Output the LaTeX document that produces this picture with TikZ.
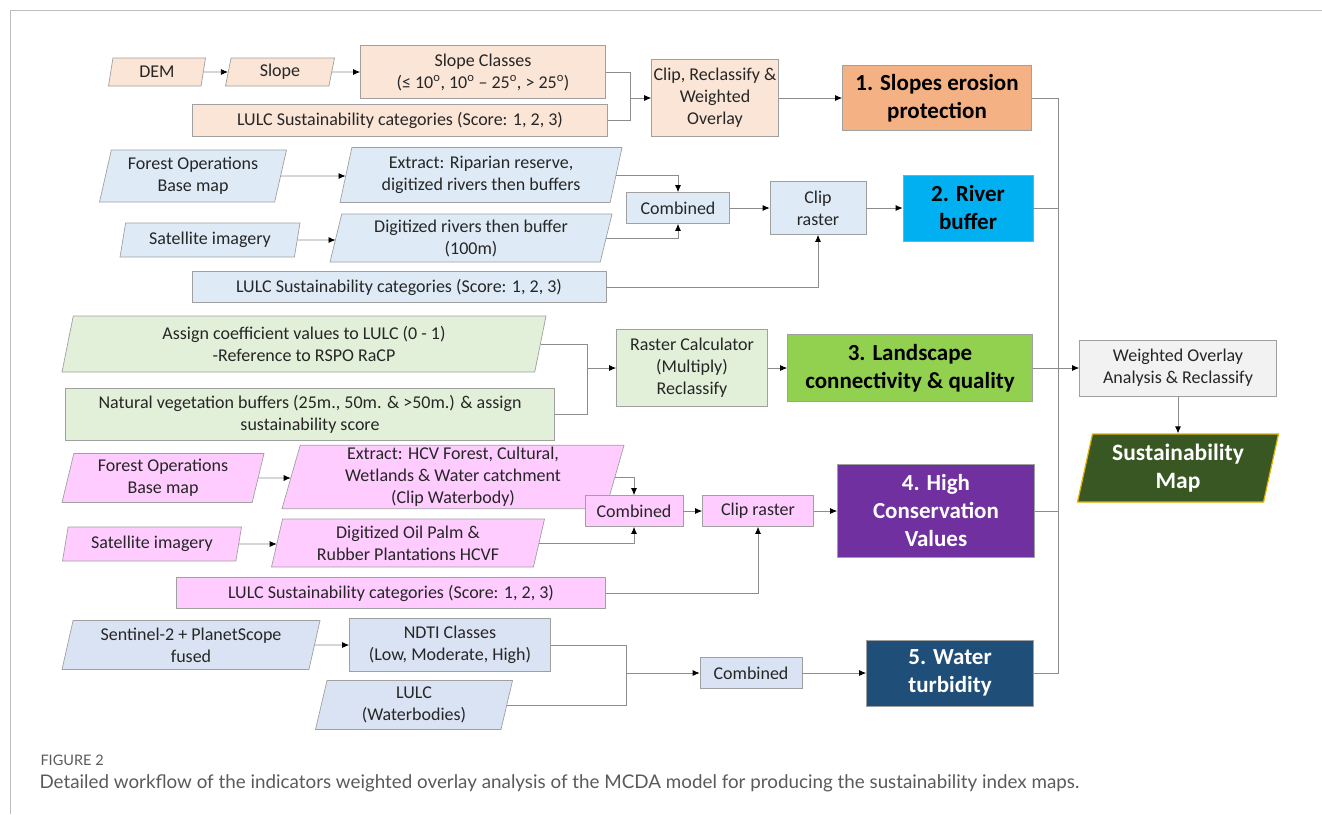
\documentclass[tikz,border=0pt]{standalone}
\usepackage{fontspec}
\setmainfont{Carlito}
\newfontfamily\capfont{Lato}
\usepackage{tikz}
\usetikzlibrary{positioning,
                shapes.geometric,
                arrows.meta}
\definecolor{slopefill}{HTML}{FBE5D6}
\definecolor{slopeout}{HTML}{F4B183}
\definecolor{riverfill}{HTML}{DEEBF7}
\definecolor{riverout}{HTML}{00B0F0}
\definecolor{landfill}{HTML}{E2F0D9}
\definecolor{landout}{HTML}{92D050}
\definecolor{hcvfill}{HTML}{FFCCFF}
\definecolor{hcvout}{HTML}{7030A0}
\definecolor{turbfill}{HTML}{DAE3F3}
\definecolor{turbout}{HTML}{1F4E79}
\definecolor{wofill}{HTML}{F2F2F2}
\definecolor{mapgreen}{HTML}{385723}
\definecolor{mapgold}{HTML}{E2B200}
\definecolor{boxgray}{HTML}{A0A0A0}
\definecolor{linegray}{HTML}{8C8C8C}
\definecolor{textdark}{HTML}{262626}
\definecolor{capgray}{HTML}{5A5A5A}
\definecolor{framegray}{HTML}{BDBDBD}

\begin{document}
\begin{tikzpicture}[x=1pt,y=-1pt]

\tikzset{
procbox/.style={
draw=boxgray,
line width=0.7pt,
rectangle,
align=center,
inner sep=2pt,
text=textdark,
font=\fontsize{18}{22}\selectfont
},
databox/.style={
procbox,
trapezium,
trapezium left angle=74,
trapezium right angle=106,
trapezium stretches body=true
},
indbox/.style={
draw=boxgray,
line width=0.7pt,
align=center,
inner sep=2pt,
font=\fontsize{23}{28}\selectfont\bfseries
},
link/.style={
draw=linegray,
line width=0.8pt
},
flow/.style={
link,
-{Latex[length=7pt,width=6pt,black]}
}
}

\useasboundingbox (0,0) rectangle (1322,814);

%--------------------------------------------------
% FRAME AND CAPTION
%--------------------------------------------------

\draw[framegray, line width=0.8pt] (10,814) -- (10,10) -- (1322,10);

\node[anchor=west, text=capgray, font=\capfont\fontsize{14.5}{17}\selectfont]
(figlab) at (37,760) {FIGURE 2};
\node[anchor=west, text=capgray, font=\capfont\fontsize{18.8}{22}\selectfont]
(figcap) at (36,783)
{Detailed workflow of the indicators weighted overlay analysis of the MCDA model for producing the sustainability index maps.};

%--------------------------------------------------
% 1. SLOPES EROSION PROTECTION
%--------------------------------------------------

\node[databox, fill=slopefill, minimum width=97pt, minimum height=28pt]
(dem) at (157,72) {DEM};
\node[databox, fill=slopefill, minimum width=109pt, minimum height=28pt]
(slope) at (280,72) {Slope};
\node[procbox, fill=slopefill, minimum width=245pt, minimum height=53pt]
(slpcls) at (483,72)
{Slope Classes\\(≤ 10\textsuperscript{o}, 10\textsuperscript{o} – 25\textsuperscript{o}, > 25\textsuperscript{o})};
\node[procbox, fill=slopefill, minimum width=415pt, minimum height=32pt]
(lulc1) at (400,120) {LULC Sustainability categories (Score: 1, 2, 3)};
\node[procbox, fill=slopefill, minimum width=120pt, minimum height=77pt]
(clip1) at (715,98) {Clip, Reclassify \&\\Weighted\\Overlay};
\node[indbox, fill=slopeout, text=black, minimum width=189pt, minimum height=65pt]
(out1) at (937,98) {1. Slopes erosion\\protection};

\coordinate (slpjoin) at (630,98);

\draw[flow] (dem) -- (slope);
\draw[flow] (slope) -- (slpcls);
\draw[link] (slpcls.east) -| (slpjoin);
\draw[link] (lulc1.east) -| (slpjoin);
\draw[flow] (slpjoin) -- (clip1.west);
\draw[flow] (clip1) -- (out1);

%--------------------------------------------------
% 2. RIVER BUFFER
%--------------------------------------------------

\node[databox, fill=riverfill, minimum width=187pt, minimum height=52pt]
(forest2) at (193,176) {Forest Operations\\Base map};
\node[databox, fill=riverfill, minimum width=282pt, minimum height=55pt]
(extr2) at (481,175) {Extract: Riparian reserve,\\digitized rivers then buffers};
\node[databox, fill=riverfill, minimum width=180pt, minimum height=34pt]
(sat2) at (210,240) {Satellite imagery};
\node[databox, fill=riverfill, minimum width=282pt, minimum height=48pt]
(digi2) at (471,238) {Digitized rivers then buffer\\(100m)};
\node[procbox, fill=riverfill, minimum width=103pt, minimum height=31pt]
(comb2) at (678,208) {Combined};
\node[procbox, fill=riverfill, minimum width=96pt, minimum height=53pt]
(clip2) at (818,208) {Clip\\raster};
\node[procbox, fill=riverfill, minimum width=414pt, minimum height=31pt]
(lulc2) at (399,287) {LULC Sustainability categories (Score: 1, 2, 3)};
\node[indbox, fill=riverout, text=black, minimum width=130pt, minimum height=66pt]
(out2) at (968,208) {2. River\\buffer};

\draw[flow] (forest2) -- (forest2 -| extr2.west);
\draw[flow] (sat2) -- (sat2 -| digi2.west);
\draw[flow] (extr2.east) -| (comb2.north);
\draw[flow] (digi2.east) -| (comb2.south);
\draw[flow] (comb2) -- (clip2);
\draw[flow] (lulc2.east) -| (clip2.south);
\draw[flow] (clip2) -- (out2);

%--------------------------------------------------
% 3. LANDSCAPE CONNECTIVITY
%--------------------------------------------------

\node[databox, fill=landfill, minimum width=484pt, minimum height=56pt]
(coef3) at (304,344) {Assign coefficient values to LULC (0 - 1)\\-Reference to RSPO RaCP};
\node[procbox, fill=landfill, minimum width=489pt, minimum height=52pt]
(veg3) at (310,414) {Natural vegetation buffers (25m., 50m. \& >50m.) \& assign\\sustainability score};
\node[procbox, fill=landfill, minimum width=151pt, minimum height=77pt]
(rcalc3) at (692,368) {Raster Calculator\\(Multiply)\\Reclassify};
\node[indbox, fill=landout, text=black, minimum width=245pt, minimum height=67pt]
(out3) at (910,368) {3. Landscape\\connectivity \& quality};

\coordinate (landjoin) at (587,368);

\draw[link] (coef3.east) -| (landjoin);
\draw[link] (veg3.east) -| (landjoin);
\draw[flow] (landjoin) -- (rcalc3.west);
\draw[flow] (rcalc3) -- (out3);

%--------------------------------------------------
% 4. HIGH CONSERVATION VALUES
%--------------------------------------------------

\node[databox, fill=hcvfill, minimum width=202pt, minimum height=49pt]
(forest4) at (163,478) {Forest Operations\\Base map};
\node[databox, fill=hcvfill, minimum width=342pt, minimum height=60pt]
(extr4) at (453,477) {Extract: HCV Forest, Cultural,\\Wetlands \& Water catchment\\(Clip Waterbody)};
\node[databox, fill=hcvfill, minimum width=179pt, minimum height=34pt]
(sat4) at (152,544) {Satellite imagery};
\node[databox, fill=hcvfill, minimum width=273pt, minimum height=48pt]
(digi4) at (408,543) {Digitized Oil Palm \&\\Rubber Plantations HCVF};
\node[procbox, fill=hcvfill, minimum width=98pt, minimum height=31pt]
(comb4) at (634,511) {Combined};
\node[procbox, fill=hcvfill, minimum width=111pt, minimum height=31pt]
(clip4) at (758,511) {Clip raster};
\node[procbox, fill=hcvfill, minimum width=429pt, minimum height=31pt]
(lulc4) at (391,593) {LULC Sustainability categories (Score: 1, 2, 3)};
\node[indbox, fill=hcvout, text=white, minimum width=197pt, minimum height=93pt]
(out4) at (936,511) {4. High\\Conservation\\Values};

\draw[flow] (forest4) -- (forest4 -| extr4.west);
\draw[flow] (sat4) -- (sat4 -| digi4.west);
\draw[flow] (extr4.east) -| (comb4.north);
\draw[flow] (digi4.east) -| (comb4.south);
\draw[flow] (comb4) -- (clip4);
\draw[flow] (lulc4.east) -| (clip4.south);
\draw[flow] (clip4) -- (out4);

%--------------------------------------------------
% 5. WATER TURBIDITY
%--------------------------------------------------

\node[databox, fill=turbfill, minimum width=258pt, minimum height=49pt]
(sent5) at (191,645) {Sentinel-2 + PlanetScope\\fused};
\node[procbox, fill=turbfill, minimum width=201pt, minimum height=53pt]
(ndti5) at (450,645) {NDTI Classes\\(Low, Moderate, High)};
\node[databox, fill=turbfill, minimum width=197pt, minimum height=49pt]
(lulc5) at (414,705) {LULC\\(Waterbodies)};
\node[procbox, fill=turbfill, minimum width=102pt, minimum height=31pt]
(comb5) at (751,673) {Combined};
\node[indbox, fill=turbout, text=white, minimum width=167pt, minimum height=66pt]
(out5) at (950,673) {5. Water\\turbidity};

\coordinate (turbjoin) at (626,673);

\draw[flow] (sent5) -- (ndti5);
\draw[link] (ndti5.east) -| (turbjoin);
\draw[link] (lulc5.east) -| (turbjoin);
\draw[flow] (turbjoin) -- (comb5.west);
\draw[flow] (comb5) -- (out5);

%--------------------------------------------------
% WEIGHTED OVERLAY AND MAP
%--------------------------------------------------

\node[procbox, fill=wofill, minimum width=197pt, minimum height=56pt]
(wo) at (1178,368) {Weighted Overlay\\Analysis \& Reclassify};
\node[databox, fill=mapgreen, draw=mapgold, line width=1.2pt, text=white,
font=\fontsize{23.5}{28}\selectfont\bfseries, minimum width=201pt, minimum height=68pt]
(smap) at (1178,468) {Sustainability\\Map};

\coordinate (bustop) at (1058,98);
\coordinate (busbot) at (1058,673);

\draw[link] (out1.east) -- (bustop) -- (busbot) -- (out5.east);
\draw[link] (out2.east) -- (out2.east -| bustop);
\draw[link] (out4.east) -- (out4.east -| bustop);
\draw[flow] (out3.east) -- (wo.west);
\draw[flow] (wo) -- (smap);

\end{tikzpicture}
\end{document}
